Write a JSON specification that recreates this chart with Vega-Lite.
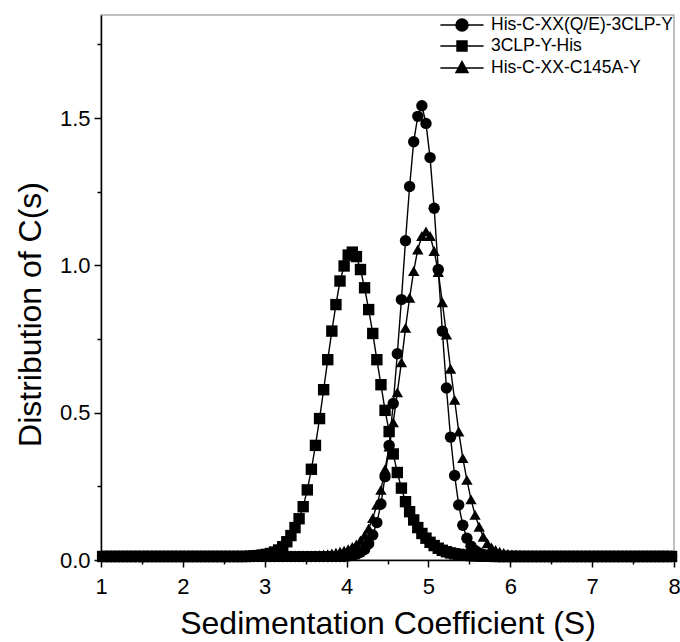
{
  "$schema": "https://vega.github.io/schema/vega-lite/v6.json",
  "width": 573,
  "height": 545,
  "autosize": {"type": "none"},
  "padding": {"left": 101, "top": 15, "right": 6, "bottom": 82},
  "background": "white",
  "config": {"view": {"stroke": "#aaaaaa", "strokeWidth": 1.5}},
  "data": {"values": [
    {"s":"a","x":1.02,"y":0.012},{"s":"a","x":1.07,"y":0.012},{"s":"a","x":1.12,"y":0.012},{"s":"a","x":1.17,"y":0.012},{"s":"a","x":1.22,"y":0.012},{"s":"a","x":1.27,"y":0.012},{"s":"a","x":1.32,"y":0.012},{"s":"a","x":1.37,"y":0.012},{"s":"a","x":1.42,"y":0.012},{"s":"a","x":1.47,"y":0.012},
    {"s":"a","x":1.52,"y":0.012},{"s":"a","x":1.57,"y":0.012},{"s":"a","x":1.62,"y":0.012},{"s":"a","x":1.67,"y":0.012},{"s":"a","x":1.72,"y":0.012},{"s":"a","x":1.77,"y":0.012},{"s":"a","x":1.82,"y":0.012},{"s":"a","x":1.87,"y":0.012},{"s":"a","x":1.92,"y":0.012},{"s":"a","x":1.97,"y":0.012},
    {"s":"a","x":2.02,"y":0.012},{"s":"a","x":2.07,"y":0.012},{"s":"a","x":2.12,"y":0.012},{"s":"a","x":2.17,"y":0.012},{"s":"a","x":2.22,"y":0.012},{"s":"a","x":2.27,"y":0.012},{"s":"a","x":2.32,"y":0.012},{"s":"a","x":2.37,"y":0.012},{"s":"a","x":2.42,"y":0.012},{"s":"a","x":2.47,"y":0.012},
    {"s":"a","x":2.52,"y":0.012},{"s":"a","x":2.57,"y":0.012},{"s":"a","x":2.62,"y":0.012},{"s":"a","x":2.67,"y":0.012},{"s":"a","x":2.72,"y":0.012},{"s":"a","x":2.77,"y":0.012},{"s":"a","x":2.82,"y":0.012},{"s":"a","x":2.87,"y":0.012},{"s":"a","x":2.92,"y":0.012},{"s":"a","x":2.97,"y":0.012},
    {"s":"a","x":3.02,"y":0.012},{"s":"a","x":3.07,"y":0.012},{"s":"a","x":3.12,"y":0.012},{"s":"a","x":3.17,"y":0.012},{"s":"a","x":3.22,"y":0.012},{"s":"a","x":3.27,"y":0.012},{"s":"a","x":3.32,"y":0.012},{"s":"a","x":3.37,"y":0.012},{"s":"a","x":3.42,"y":0.012},{"s":"a","x":3.47,"y":0.012},
    {"s":"a","x":3.52,"y":0.012},{"s":"a","x":3.57,"y":0.012},{"s":"a","x":3.62,"y":0.012},{"s":"a","x":3.67,"y":0.012},{"s":"a","x":3.72,"y":0.012},{"s":"a","x":3.77,"y":0.012},{"s":"a","x":3.82,"y":0.012},{"s":"a","x":3.87,"y":0.012},{"s":"a","x":3.92,"y":0.012},{"s":"a","x":3.97,"y":0.012},
    {"s":"a","x":4.02,"y":0.014},{"s":"a","x":4.07,"y":0.016},{"s":"a","x":4.12,"y":0.02},{"s":"a","x":4.17,"y":0.026},{"s":"a","x":4.22,"y":0.036},{"s":"a","x":4.27,"y":0.055},{"s":"a","x":4.32,"y":0.085},{"s":"a","x":4.37,"y":0.127},{"s":"a","x":4.42,"y":0.19},{"s":"a","x":4.47,"y":0.283},
    {"s":"a","x":4.52,"y":0.389},{"s":"a","x":4.57,"y":0.531},{"s":"a","x":4.62,"y":0.7},{"s":"a","x":4.67,"y":0.884},{"s":"a","x":4.72,"y":1.084},{"s":"a","x":4.77,"y":1.268},{"s":"a","x":4.82,"y":1.42},{"s":"a","x":4.87,"y":1.506},{"s":"a","x":4.92,"y":1.542},{"s":"a","x":4.97,"y":1.482},
    {"s":"a","x":5.02,"y":1.366},{"s":"a","x":5.07,"y":1.194},{"s":"a","x":5.12,"y":0.986},{"s":"a","x":5.17,"y":0.777},{"s":"a","x":5.22,"y":0.584},{"s":"a","x":5.27,"y":0.417},{"s":"a","x":5.32,"y":0.287},{"s":"a","x":5.37,"y":0.187},{"s":"a","x":5.42,"y":0.118},{"s":"a","x":5.47,"y":0.074},
    {"s":"a","x":5.52,"y":0.047},{"s":"a","x":5.57,"y":0.032},{"s":"a","x":5.62,"y":0.024},{"s":"a","x":5.67,"y":0.019},{"s":"a","x":5.72,"y":0.016},{"s":"a","x":5.77,"y":0.014},{"s":"a","x":5.82,"y":0.013},{"s":"a","x":5.87,"y":0.012},{"s":"a","x":5.92,"y":0.012},{"s":"a","x":5.97,"y":0.012},
    {"s":"a","x":6.02,"y":0.012},{"s":"a","x":6.07,"y":0.012},{"s":"a","x":6.12,"y":0.012},{"s":"a","x":6.17,"y":0.012},{"s":"a","x":6.22,"y":0.012},{"s":"a","x":6.27,"y":0.012},{"s":"a","x":6.32,"y":0.012},{"s":"a","x":6.37,"y":0.012},{"s":"a","x":6.42,"y":0.012},{"s":"a","x":6.47,"y":0.012},
    {"s":"a","x":6.52,"y":0.012},{"s":"a","x":6.57,"y":0.012},{"s":"a","x":6.62,"y":0.012},{"s":"a","x":6.67,"y":0.012},{"s":"a","x":6.72,"y":0.012},{"s":"a","x":6.77,"y":0.012},{"s":"a","x":6.82,"y":0.012},{"s":"a","x":6.87,"y":0.012},{"s":"a","x":6.92,"y":0.012},{"s":"a","x":6.97,"y":0.012},
    {"s":"a","x":7.02,"y":0.012},{"s":"a","x":7.07,"y":0.012},{"s":"a","x":7.12,"y":0.012},{"s":"a","x":7.17,"y":0.012},{"s":"a","x":7.22,"y":0.012},{"s":"a","x":7.27,"y":0.012},{"s":"a","x":7.32,"y":0.012},{"s":"a","x":7.37,"y":0.012},{"s":"a","x":7.42,"y":0.012},{"s":"a","x":7.47,"y":0.012},
    {"s":"a","x":7.52,"y":0.012},{"s":"a","x":7.57,"y":0.012},{"s":"a","x":7.62,"y":0.012},{"s":"a","x":7.67,"y":0.012},{"s":"a","x":7.72,"y":0.012},{"s":"a","x":7.77,"y":0.012},{"s":"a","x":7.82,"y":0.012},{"s":"a","x":7.87,"y":0.012},{"s":"a","x":7.92,"y":0.012},{"s":"a","x":7.97,"y":0.012},

    {"s":"b","x":1.02,"y":0.012},{"s":"b","x":1.07,"y":0.012},{"s":"b","x":1.12,"y":0.012},{"s":"b","x":1.17,"y":0.012},{"s":"b","x":1.22,"y":0.012},{"s":"b","x":1.27,"y":0.012},{"s":"b","x":1.32,"y":0.012},{"s":"b","x":1.37,"y":0.012},{"s":"b","x":1.42,"y":0.012},{"s":"b","x":1.47,"y":0.012},
    {"s":"b","x":1.52,"y":0.012},{"s":"b","x":1.57,"y":0.012},{"s":"b","x":1.62,"y":0.012},{"s":"b","x":1.67,"y":0.012},{"s":"b","x":1.72,"y":0.012},{"s":"b","x":1.77,"y":0.012},{"s":"b","x":1.82,"y":0.012},{"s":"b","x":1.87,"y":0.012},{"s":"b","x":1.92,"y":0.012},{"s":"b","x":1.97,"y":0.012},
    {"s":"b","x":2.02,"y":0.012},{"s":"b","x":2.07,"y":0.012},{"s":"b","x":2.12,"y":0.012},{"s":"b","x":2.17,"y":0.012},{"s":"b","x":2.22,"y":0.012},{"s":"b","x":2.27,"y":0.012},{"s":"b","x":2.32,"y":0.012},{"s":"b","x":2.37,"y":0.012},{"s":"b","x":2.42,"y":0.012},{"s":"b","x":2.47,"y":0.012},
    {"s":"b","x":2.52,"y":0.012},{"s":"b","x":2.57,"y":0.012},{"s":"b","x":2.62,"y":0.012},{"s":"b","x":2.67,"y":0.012},{"s":"b","x":2.72,"y":0.012},{"s":"b","x":2.77,"y":0.012},{"s":"b","x":2.82,"y":0.013},{"s":"b","x":2.87,"y":0.014},{"s":"b","x":2.92,"y":0.015},{"s":"b","x":2.97,"y":0.017},
    {"s":"b","x":3.02,"y":0.019},{"s":"b","x":3.07,"y":0.022},{"s":"b","x":3.12,"y":0.027},{"s":"b","x":3.17,"y":0.034},{"s":"b","x":3.22,"y":0.045},{"s":"b","x":3.27,"y":0.062},{"s":"b","x":3.32,"y":0.083},{"s":"b","x":3.37,"y":0.11},{"s":"b","x":3.42,"y":0.14},{"s":"b","x":3.47,"y":0.181},
    {"s":"b","x":3.52,"y":0.238},{"s":"b","x":3.57,"y":0.308},{"s":"b","x":3.62,"y":0.389},{"s":"b","x":3.67,"y":0.48},{"s":"b","x":3.72,"y":0.578},{"s":"b","x":3.77,"y":0.68},{"s":"b","x":3.82,"y":0.777},{"s":"b","x":3.87,"y":0.867},{"s":"b","x":3.92,"y":0.947},{"s":"b","x":3.97,"y":0.998},
    {"s":"b","x":4.02,"y":1.035},{"s":"b","x":4.07,"y":1.045},{"s":"b","x":4.12,"y":1.03},{"s":"b","x":4.17,"y":0.986},{"s":"b","x":4.22,"y":0.924},{"s":"b","x":4.27,"y":0.85},{"s":"b","x":4.32,"y":0.769},{"s":"b","x":4.37,"y":0.68},{"s":"b","x":4.42,"y":0.595},{"s":"b","x":4.47,"y":0.508},
    {"s":"b","x":4.52,"y":0.436},{"s":"b","x":4.57,"y":0.36},{"s":"b","x":4.62,"y":0.297},{"s":"b","x":4.67,"y":0.244},{"s":"b","x":4.72,"y":0.198},{"s":"b","x":4.77,"y":0.164},{"s":"b","x":4.82,"y":0.136},{"s":"b","x":4.87,"y":0.11},{"s":"b","x":4.92,"y":0.09},{"s":"b","x":4.97,"y":0.074},
    {"s":"b","x":5.02,"y":0.06},{"s":"b","x":5.07,"y":0.049},{"s":"b","x":5.12,"y":0.04},{"s":"b","x":5.17,"y":0.033},{"s":"b","x":5.22,"y":0.028},{"s":"b","x":5.27,"y":0.024},{"s":"b","x":5.32,"y":0.021},{"s":"b","x":5.37,"y":0.019},{"s":"b","x":5.42,"y":0.017},{"s":"b","x":5.47,"y":0.016},
    {"s":"b","x":5.52,"y":0.015},{"s":"b","x":5.57,"y":0.014},{"s":"b","x":5.62,"y":0.014},{"s":"b","x":5.67,"y":0.013},{"s":"b","x":5.72,"y":0.013},{"s":"b","x":5.77,"y":0.013},{"s":"b","x":5.82,"y":0.012},{"s":"b","x":5.87,"y":0.012},{"s":"b","x":5.92,"y":0.012},{"s":"b","x":5.97,"y":0.012},
    {"s":"b","x":6.02,"y":0.012},{"s":"b","x":6.07,"y":0.012},{"s":"b","x":6.12,"y":0.012},{"s":"b","x":6.17,"y":0.012},{"s":"b","x":6.22,"y":0.012},{"s":"b","x":6.27,"y":0.012},{"s":"b","x":6.32,"y":0.012},{"s":"b","x":6.37,"y":0.012},{"s":"b","x":6.42,"y":0.012},{"s":"b","x":6.47,"y":0.012},
    {"s":"b","x":6.52,"y":0.012},{"s":"b","x":6.57,"y":0.012},{"s":"b","x":6.62,"y":0.012},{"s":"b","x":6.67,"y":0.012},{"s":"b","x":6.72,"y":0.012},{"s":"b","x":6.77,"y":0.012},{"s":"b","x":6.82,"y":0.012},{"s":"b","x":6.87,"y":0.012},{"s":"b","x":6.92,"y":0.012},{"s":"b","x":6.97,"y":0.012},
    {"s":"b","x":7.02,"y":0.012},{"s":"b","x":7.07,"y":0.012},{"s":"b","x":7.12,"y":0.012},{"s":"b","x":7.17,"y":0.012},{"s":"b","x":7.22,"y":0.012},{"s":"b","x":7.27,"y":0.012},{"s":"b","x":7.32,"y":0.012},{"s":"b","x":7.37,"y":0.012},{"s":"b","x":7.42,"y":0.012},{"s":"b","x":7.47,"y":0.012},
    {"s":"b","x":7.52,"y":0.012},{"s":"b","x":7.57,"y":0.012},{"s":"b","x":7.62,"y":0.012},{"s":"b","x":7.67,"y":0.012},{"s":"b","x":7.72,"y":0.012},{"s":"b","x":7.77,"y":0.012},{"s":"b","x":7.82,"y":0.012},{"s":"b","x":7.87,"y":0.012},{"s":"b","x":7.92,"y":0.012},{"s":"b","x":7.97,"y":0.012},

    {"s":"c","x":1.02,"y":0.012},{"s":"c","x":1.07,"y":0.012},{"s":"c","x":1.12,"y":0.012},{"s":"c","x":1.17,"y":0.012},{"s":"c","x":1.22,"y":0.012},{"s":"c","x":1.27,"y":0.012},{"s":"c","x":1.32,"y":0.012},{"s":"c","x":1.37,"y":0.012},{"s":"c","x":1.42,"y":0.012},{"s":"c","x":1.47,"y":0.012},
    {"s":"c","x":1.52,"y":0.012},{"s":"c","x":1.57,"y":0.012},{"s":"c","x":1.62,"y":0.012},{"s":"c","x":1.67,"y":0.012},{"s":"c","x":1.72,"y":0.012},{"s":"c","x":1.77,"y":0.012},{"s":"c","x":1.82,"y":0.012},{"s":"c","x":1.87,"y":0.012},{"s":"c","x":1.92,"y":0.012},{"s":"c","x":1.97,"y":0.012},
    {"s":"c","x":2.02,"y":0.012},{"s":"c","x":2.07,"y":0.012},{"s":"c","x":2.12,"y":0.012},{"s":"c","x":2.17,"y":0.012},{"s":"c","x":2.22,"y":0.012},{"s":"c","x":2.27,"y":0.012},{"s":"c","x":2.32,"y":0.012},{"s":"c","x":2.37,"y":0.012},{"s":"c","x":2.42,"y":0.012},{"s":"c","x":2.47,"y":0.012},
    {"s":"c","x":2.52,"y":0.012},{"s":"c","x":2.57,"y":0.012},{"s":"c","x":2.62,"y":0.012},{"s":"c","x":2.67,"y":0.012},{"s":"c","x":2.72,"y":0.012},{"s":"c","x":2.77,"y":0.012},{"s":"c","x":2.82,"y":0.012},{"s":"c","x":2.87,"y":0.012},{"s":"c","x":2.92,"y":0.012},{"s":"c","x":2.97,"y":0.012},
    {"s":"c","x":3.02,"y":0.012},{"s":"c","x":3.07,"y":0.012},{"s":"c","x":3.12,"y":0.012},{"s":"c","x":3.17,"y":0.012},{"s":"c","x":3.22,"y":0.012},{"s":"c","x":3.27,"y":0.012},{"s":"c","x":3.32,"y":0.012},{"s":"c","x":3.37,"y":0.012},{"s":"c","x":3.42,"y":0.012},{"s":"c","x":3.47,"y":0.012},
    {"s":"c","x":3.52,"y":0.013},{"s":"c","x":3.57,"y":0.014},{"s":"c","x":3.62,"y":0.015},{"s":"c","x":3.67,"y":0.016},{"s":"c","x":3.72,"y":0.018},{"s":"c","x":3.77,"y":0.02},{"s":"c","x":3.82,"y":0.022},{"s":"c","x":3.87,"y":0.025},{"s":"c","x":3.92,"y":0.028},{"s":"c","x":3.97,"y":0.032},
    {"s":"c","x":4.02,"y":0.037},{"s":"c","x":4.07,"y":0.044},{"s":"c","x":4.12,"y":0.053},{"s":"c","x":4.17,"y":0.066},{"s":"c","x":4.22,"y":0.083},{"s":"c","x":4.27,"y":0.107},{"s":"c","x":4.32,"y":0.142},{"s":"c","x":4.37,"y":0.187},{"s":"c","x":4.42,"y":0.238},{"s":"c","x":4.47,"y":0.308},
    {"s":"c","x":4.52,"y":0.385},{"s":"c","x":4.57,"y":0.467},{"s":"c","x":4.62,"y":0.569},{"s":"c","x":4.67,"y":0.671},{"s":"c","x":4.72,"y":0.788},{"s":"c","x":4.77,"y":0.89},{"s":"c","x":4.82,"y":0.981},{"s":"c","x":4.87,"y":1.054},{"s":"c","x":4.92,"y":1.1},{"s":"c","x":4.97,"y":1.115},
    {"s":"c","x":5.02,"y":1.1},{"s":"c","x":5.07,"y":1.049},{"s":"c","x":5.12,"y":0.977},{"s":"c","x":5.17,"y":0.875},{"s":"c","x":5.22,"y":0.765},{"s":"c","x":5.27,"y":0.649},{"s":"c","x":5.32,"y":0.544},{"s":"c","x":5.37,"y":0.436},{"s":"c","x":5.42,"y":0.346},{"s":"c","x":5.47,"y":0.272},
    {"s":"c","x":5.52,"y":0.206},{"s":"c","x":5.57,"y":0.153},{"s":"c","x":5.62,"y":0.113},{"s":"c","x":5.67,"y":0.079},{"s":"c","x":5.72,"y":0.057},{"s":"c","x":5.77,"y":0.043},{"s":"c","x":5.82,"y":0.034},{"s":"c","x":5.87,"y":0.028},{"s":"c","x":5.92,"y":0.024},{"s":"c","x":5.97,"y":0.021},
    {"s":"c","x":6.02,"y":0.019},{"s":"c","x":6.07,"y":0.018},{"s":"c","x":6.12,"y":0.017},{"s":"c","x":6.17,"y":0.016},{"s":"c","x":6.22,"y":0.015},{"s":"c","x":6.27,"y":0.014},{"s":"c","x":6.32,"y":0.014},{"s":"c","x":6.37,"y":0.014},{"s":"c","x":6.42,"y":0.014},{"s":"c","x":6.47,"y":0.013},
    {"s":"c","x":6.52,"y":0.013},{"s":"c","x":6.57,"y":0.013},{"s":"c","x":6.62,"y":0.013},{"s":"c","x":6.67,"y":0.012},{"s":"c","x":6.72,"y":0.012},{"s":"c","x":6.77,"y":0.012},{"s":"c","x":6.82,"y":0.012},{"s":"c","x":6.87,"y":0.012},{"s":"c","x":6.92,"y":0.012},{"s":"c","x":6.97,"y":0.012},
    {"s":"c","x":7.02,"y":0.012},{"s":"c","x":7.07,"y":0.012},{"s":"c","x":7.12,"y":0.012},{"s":"c","x":7.17,"y":0.012},{"s":"c","x":7.22,"y":0.012},{"s":"c","x":7.27,"y":0.012},{"s":"c","x":7.32,"y":0.012},{"s":"c","x":7.37,"y":0.012},{"s":"c","x":7.42,"y":0.012},{"s":"c","x":7.47,"y":0.012},
    {"s":"c","x":7.52,"y":0.012},{"s":"c","x":7.57,"y":0.012},{"s":"c","x":7.62,"y":0.012},{"s":"c","x":7.67,"y":0.012},{"s":"c","x":7.72,"y":0.012},{"s":"c","x":7.77,"y":0.012},{"s":"c","x":7.82,"y":0.012},{"s":"c","x":7.87,"y":0.012},{"s":"c","x":7.92,"y":0.012},{"s":"c","x":7.97,"y":0.012}
  ]},
  "encoding": {
    "x": {
      "field": "x", "type": "quantitative",
      "scale": {"domain": [1, 8], "nice": false, "zero": false},
      "axis": {
        "title": "Sedimentation Coefficient (S)",
        "values": [1, 1.5, 2, 2.5, 3, 3.5, 4, 4.5, 5, 5.5, 6, 6.5, 7, 7.5, 8],
        "labelExpr": "datum.value % 1 === 0 ? format(datum.value, 'd') : ''",
        "grid": false,
        "domainColor": "black", "domainWidth": 1.5,
        "tickColor": "black", "tickWidth": 1.5,
        "tickSize": {"condition": {"test": "datum.value % 1 === 0", "value": 7}, "value": 4},
        "labelFont": "Liberation Sans", "labelFontSize": 22, "labelColor": "black", "labelPadding": 9,
        "labelFlush": false, "labelOverlap": false,
        "titleFont": "Liberation Sans", "titleFontSize": 32, "titleFontWeight": "normal", "titleColor": "black", "titlePadding": 11
      }
    },
    "y": {
      "field": "y", "type": "quantitative",
      "scale": {"domain": [0, 1.85], "nice": false, "zero": false},
      "axis": {
        "title": "Distribution of C(s)",
        "values": [0, 0.25, 0.5, 0.75, 1, 1.25, 1.5, 1.75],
        "labelExpr": "datum.value % 0.5 === 0 ? format(datum.value, '.1f') : ''",
        "grid": false,
        "domainColor": "black", "domainWidth": 1.5,
        "tickColor": "black", "tickWidth": 1.5,
        "tickSize": {"condition": {"test": "datum.value % 0.5 === 0", "value": 7}, "value": 4},
        "labelFont": "Liberation Sans", "labelFontSize": 22, "labelColor": "black", "labelPadding": 4,
        "labelFlush": false, "labelOverlap": false,
        "titleFont": "Liberation Sans", "titleFontSize": 32, "titleFontWeight": "normal", "titleColor": "black", "titlePadding": 12,
        "titleY": 299
      }
    }
  },
  "layer": [
    {
      "mark": {"type": "line", "strokeWidth": 1.4},
      "encoding": {
        "color": {
          "field": "s", "type": "nominal",
          "scale": {"domain": ["a", "b", "c"], "range": ["black", "black", "black"]},
          "legend": {
            "orient": "none", "legendX": 352, "legendY": 1,
            "title": null, "padding": 0,
            "labelFont": "Liberation Sans", "labelFontSize": 17.5, "labelColor": "black", "labelLimit": 400,
            "labelOffset": 20, "symbolSize": 256, "rowPadding": 3,
            "symbolOpacity": 1, "symbolFillColor": "black", "symbolStrokeColor": "black", "symbolStrokeWidth": 1.5,
            "symbolType": {"expr": "datum.value === 'a' ? 'M-2.7,0L2.7,0M-0.75,0A0.75,0.75 0 1,0 0.75,0A0.75,0.75 0 1,0 -0.75,0Z' : datum.value === 'b' ? 'M-2.7,0L2.7,0M-0.62,-0.62L0.62,-0.62L0.62,0.62L-0.62,0.62Z' : 'M-2.7,0L2.7,0M0,-0.8L0.75,0.55L-0.75,0.55Z'"},
            "labelExpr": "datum.label === 'a' ? 'His-C-XX(Q/E)-3CLP-Y' : datum.label === 'b' ? '3CLP-Y-His' : 'His-C-XX-C145A-Y'"
          }
        }
      }
    },
    {
      "transform": [{"filter": "datum.s === 'a'"}],
      "mark": {"type": "point", "shape": "circle", "filled": true, "color": "black", "size": 130, "opacity": 1}
    },
    {
      "transform": [{"filter": "datum.s === 'b'"}],
      "mark": {"type": "point", "shape": "square", "filled": true, "color": "black", "size": 130, "opacity": 1}
    },
    {
      "transform": [{"filter": "datum.s === 'c'"}],
      "mark": {"type": "point", "shape": "triangle-up", "filled": true, "color": "black", "size": 130, "opacity": 1}
    }
  ]
}
